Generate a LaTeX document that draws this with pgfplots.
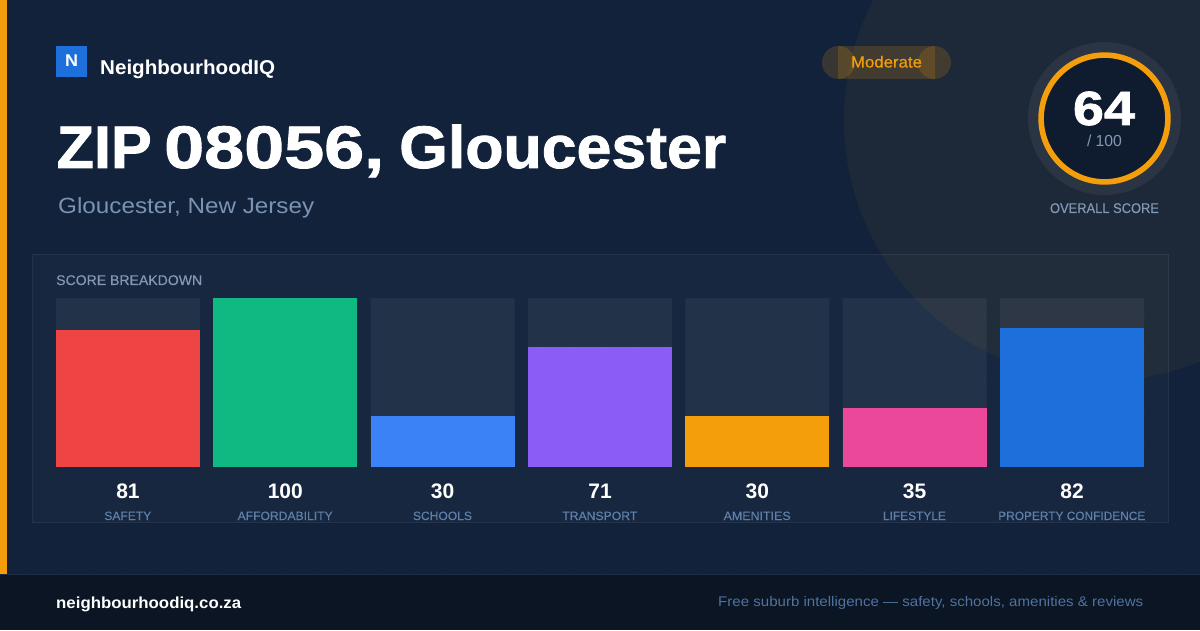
\documentclass[border=0pt]{standalone}
\usepackage{pgfplots}
\usepackage{graphicx}
\usepackage{fontspec}
\pgfplotsset{compat=1.18}
\setmainfont{Liberation Sans}
\newfontfamily\heavy{Liberation Sans}[UprightFont=* Bold,FakeBold=1.4]
\newfontfamily\semi{Liberation Sans}[FakeBold=0.35]
\definecolor{bg}{HTML}{12223B}
\definecolor{amber}{HTML}{F59E0B}
\definecolor{foot}{HTML}{0B1523}
\definecolor{muted}{HTML}{8298B4}
\definecolor{cat}{HTML}{5F80A8}
\definecolor{sub}{HTML}{7A93B2}
\definecolor{footxt}{HTML}{4F739E}
\definecolor{cred}{HTML}{EF4444}
\definecolor{cgreen}{HTML}{10B981}
\definecolor{cblue}{HTML}{3B82F6}
\definecolor{cpurple}{HTML}{8B5CF6}
\definecolor{cpink}{HTML}{EC4899}
\definecolor{cnavy}{HTML}{1D6FDC}
\definecolor{ginner}{HTML}{0F1C30}
\newcommand\fitw[2]{\resizebox{#1}{\height}{#2}}
\newcommand\fs[1]{\fontsize{#1}{#1}\selectfont}
% x, baseline y, width, font, colour, text
\newcommand\TL[6]{\node[anchor=base west,inner sep=0pt,text=#5] at (#1,#2) {\fitw{#3pt}{#4#6}};}
\newcommand\TC[6]{\node[anchor=base,inner sep=0pt,text=#5] at (#1,#2) {\fitw{#3pt}{#4#6}};}
\begin{document}
\begin{tikzpicture}
\path[use as bounding box] (0,0) rectangle (1200pt,630pt);
\begin{scope}[x=1pt,y=-1pt,yshift=630pt]
  \fill[bg] (0,0) rectangle (1200,630);
  \fill[white,opacity=0.035] \foreach \x in {24,56,...,1176} {\foreach \y in {24,56,...,568} {(\x,\y) rectangle ++(1.3,1.3)}};
  \begin{scope}
    \clip (0,0) rectangle (1200,574);
    \fill[amber,opacity=0.05] (1104,120) circle (260);
  \end{scope}
  \fill[amber] (0,0) rectangle (7,574);
  \fill[foot] (0,574.5) rectangle (1200,630);
  \draw[white,opacity=0.05,line width=1pt] (0,574.5) -- (1200,574.5);
  \fill[white,opacity=0.025] (32,254) rectangle (1168.5,522.5);
  \draw[white,opacity=0.06,line width=1pt] (32.5,254.5) rectangle (1168.5,522.5);
\end{scope}
\begin{axis}[
  at={(56pt,163pt)},anchor=south west,
  scale only axis,width=1088pt,height=169pt,
  xmin=-0.45763,xmax=6.45763,ymin=0,ymax=100,
  clip=false,
  axis line style={draw=none},
  major tick length=0pt,
  ytick=\empty,
  xtick={0,1,2,3,4,5,6},
  xticklabels={
    {\fitw{47pt}{SAFETY}},
    {\fitw{95pt}{AFFORDABILITY}},
    {\fitw{59pt}{SCHOOLS}},
    {\fitw{75pt}{TRANSPORT}},
    {\fitw{67pt}{AMENITIES}},
    {\fitw{63pt}{LIFESTYLE}},
    {\fitw{147pt}{PROPERTY CONFIDENCE}}},
  xticklabel style={text=cat,font=\fs{12}\semi,anchor=base,inner sep=0pt,yshift=-53pt,xshift=-0.2pt},
  ybar,bar width=144pt,bar shift=0pt,
  every axis plot/.append style={draw=none},
]
\addplot[fill=white,fill opacity=0.05,draw=none] coordinates {(0,100)(1,100)(2,100)(3,100)(4,100)(5,100)(6,100)};
\addplot[fill=cred,draw=none] coordinates {(0,81)};
\addplot[fill=cgreen,draw=none] coordinates {(1,100)};
\addplot[fill=cblue,draw=none] coordinates {(2,30)};
\addplot[fill=cpurple,draw=none] coordinates {(3,71)};
\addplot[fill=amber,draw=none] coordinates {(4,30)};
\addplot[fill=cpink,draw=none] coordinates {(5,35)};
\addplot[fill=cnavy,draw=none] coordinates {(6,82)};
\node[anchor=base,inner sep=0pt,text=white,font=\fs{21}\bfseries] at (axis cs:0,-18.9) {81};
\node[anchor=base,inner sep=0pt,text=white,font=\fs{21}\bfseries] at (axis cs:1,-18.9) {100};
\node[anchor=base,inner sep=0pt,text=white,font=\fs{21}\bfseries] at (axis cs:2,-18.9) {30};
\node[anchor=base,inner sep=0pt,text=white,font=\fs{21}\bfseries] at (axis cs:3,-18.9) {71};
\node[anchor=base,inner sep=0pt,text=white,font=\fs{21}\bfseries] at (axis cs:4,-18.9) {30};
\node[anchor=base,inner sep=0pt,text=white,font=\fs{21}\bfseries] at (axis cs:5,-18.9) {35};
\node[anchor=base,inner sep=0pt,text=white,font=\fs{21}\bfseries] at (axis cs:6,-18.9) {82};
\end{axis}
\begin{scope}[x=1pt,y=-1pt,yshift=630pt]
  % logo
  \fill[cnavy] (56,46) rectangle (87,77);
  \TC{71.5}{67}{13}{\fs{17}\bfseries}{white}{N}
  \TL{100}{75}{175}{\fs{20}\bfseries}{white}{NeighbourhoodIQ}
  \node[anchor=base west,inner sep=0pt,text=white,font=\fs{60}\heavy] at (56.5,168)
    {\fitw{95pt}{ZIP}\hspace{12.5pt}\fitw{220pt}{08056,}\hspace{15pt}\fitw{327pt}{Gloucester}};
  \TL{58}{214}{256}{\fs{22}}{sub}{Gloucester, New Jersey}
  % pill
  \fill[amber,opacity=0.17] (838.5,62.5) circle (16.5);
  \fill[amber,opacity=0.17] (934.5,62.5) circle (16.5);
  \fill[amber,opacity=0.17] (838,46) rectangle (935,79);
  \TC{886.5}{67.5}{71}{\fs{16}\semi}{amber}{Moderate}
  % gauge
  \fill[white,opacity=0.06] (1104.5,118.5) circle (76.5);
  \fill[ginner] (1104.5,118.5) circle (63);
  \draw[amber,line width=5.6pt] (1104.5,118.5) circle (63.4);
  \TC{1104}{125}{62}{\fs{48}\heavy}{white}{64}
  \TC{1104.5}{147}{35}{\fs{16}}{muted}{/ 100}
  \TC{1104.5}{213}{109}{\fs{14}\semi}{muted}{OVERALL SCORE}
  % panel heading
  \TL{56}{285}{146}{\fs{14}\semi}{muted}{SCORE BREAKDOWN}
  % footer
  \TL{56}{608}{185}{\fs{16}\bfseries}{white}{neighbourhoodiq.co.za}
  \TL{718}{606}{425}{\fs{14}}{footxt}{Free suburb intelligence — safety, schools, amenities \& reviews}
\end{scope}
\end{tikzpicture}
\end{document}
